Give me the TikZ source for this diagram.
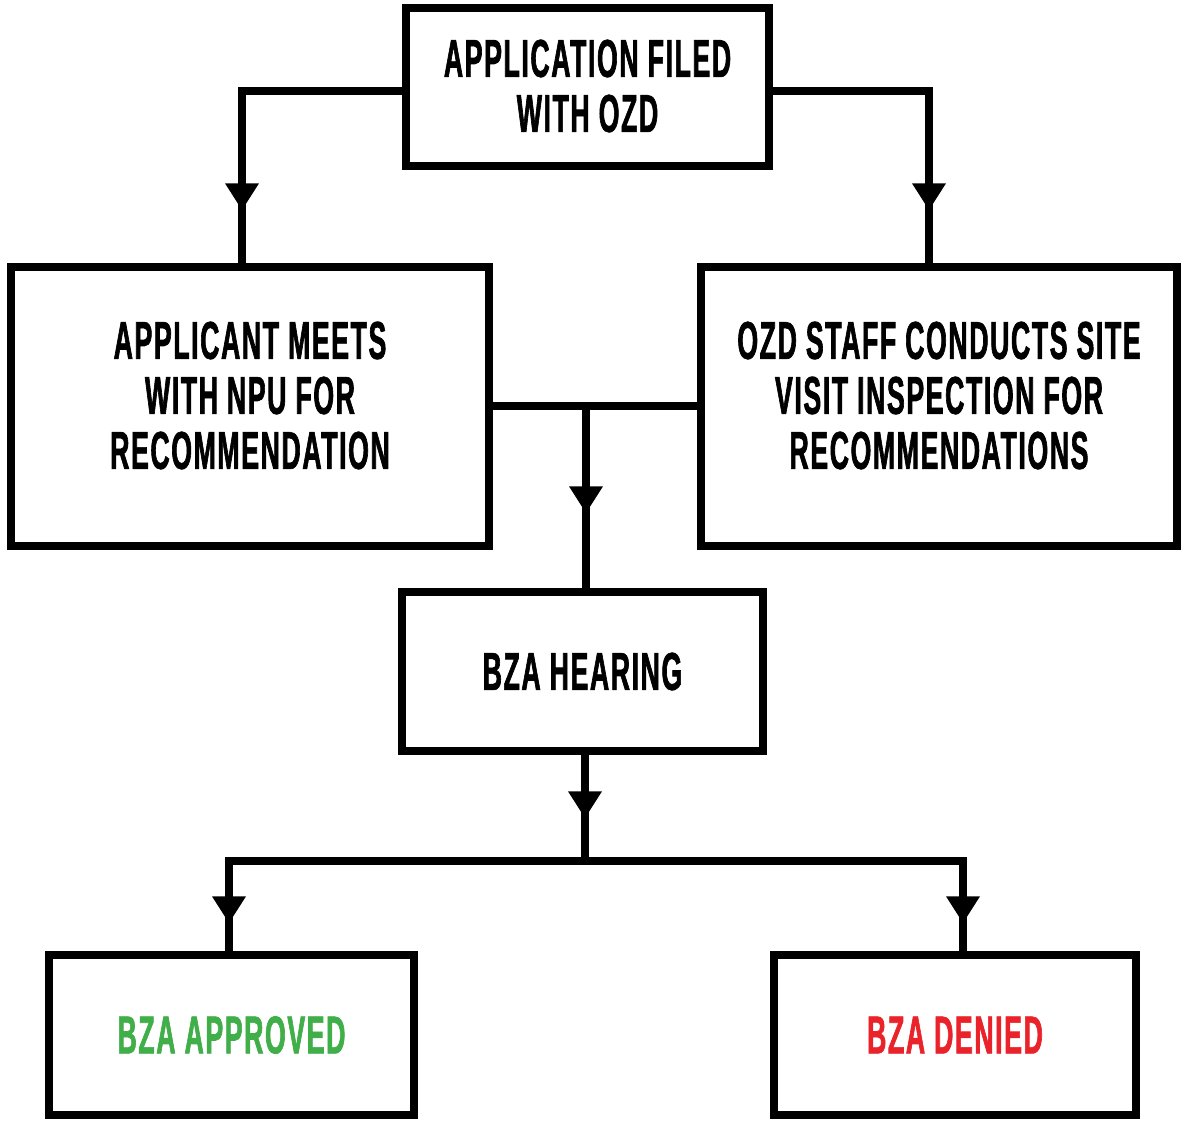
\documentclass[tikz,border=0pt]{standalone}
\usepackage{fontspec}
\usetikzlibrary{decorations.markings}
\newfontfamily\condfont{Liberation Sans}[UprightFont={* Bold}, FakeStretch=0.5, FakeBold=1.2, LetterSpace=3]
\newlength{\px}
\setlength{\px}{0.75pt}
\definecolor{okgreen}{RGB}{64,174,73}
\definecolor{nored}{RGB}{234,35,43}
\tikzset{
  x=0.75pt, y=-0.75pt,
  box/.style={draw, line width=6pt, inner sep=0pt, outer sep=0pt, fill=white},
  label text/.style={font=\condfont\fontsize{40}{41.25}\selectfont, align=center, inner sep=0pt},
  link/.style={line width=6pt, line cap=rect},
  midarrow/.style={postaction={decorate, decoration={markings,
      mark=at position #1 with {\fill (0pt,0pt) -- (-20pt,12.75pt) -- (-20pt,-12.75pt) -- cycle;}}}}
}
\begin{document}
\begin{tikzpicture}
\useasboundingbox (0,0) rectangle (1183,1121);
\fill[white] (0,0) rectangle (1183,1121);

% process boxes
\node[box, minimum width=363\px, minimum height=158\px] (filed) at (587.5,87) {};
\node[label text] at ([yshift=0.75pt]filed.center) {APPLICATION FILED\\WITH OZD};

\node[box, minimum width=478\px, minimum height=279\px] (npu) at (250,406.5) {};
\node[label text] at ([yshift=8.25pt]npu.center) {APPLICANT MEETS\\WITH NPU FOR\\RECOMMENDATION};

\node[box, minimum width=476\px, minimum height=279\px] (site) at (939,406.5) {};
\node[label text] at ([yshift=8.25pt]site.center) {OZD STAFF CONDUCTS SITE\\VISIT INSPECTION FOR\\RECOMMENDATIONS};

\node[box, minimum width=361\px, minimum height=159\px] (hearing) at (582.5,671.5) {};
\node[label text] at (hearing.center) {BZA HEARING};

\node[box, minimum width=365\px, minimum height=160\px] (approved) at (231.5,1035) {};
\node[label text, text=okgreen] at (approved.center) {BZA APPROVED};

\node[box, minimum width=362\px, minimum height=160\px] (denied) at (955,1035) {};
\node[label text, text=nored] at (denied.center) {BZA DENIED};

% bends of the connectors
\coordinate (lbend) at (242,91);
\coordinate (rbend) at (929,91);
\coordinate (join) at (586,406);
\coordinate (split) at (585,861);
\coordinate (abend) at (229,861);
\coordinate (dbend) at (963,861);

% connectors
\draw[link, midarrow=-42.75pt] (filed.west |- lbend) -- (lbend) -- (lbend |- npu.north);
\draw[link, midarrow=-42.75pt] (filed.east |- rbend) -- (rbend) -- (rbend |- site.north);
\draw[link] (npu.east |- join) -- (site.west |- join);
\draw[link, midarrow=-59.25pt] (join) -- (join |- hearing.north);
\draw[link, midarrow=-32.25pt] (split |- hearing.south) -- (split);
\draw[link] (abend) -- (dbend);
\draw[link, midarrow=-24pt] (abend) -- (abend |- approved.north);
\draw[link, midarrow=-24pt] (dbend) -- (dbend |- denied.north);
\end{tikzpicture}
\end{document}
